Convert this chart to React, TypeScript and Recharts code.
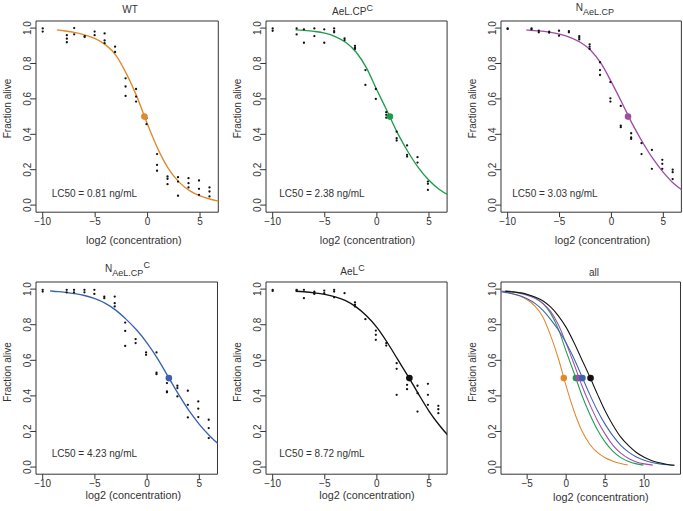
import React from "react";
import { ComposedChart, Line, Scatter, XAxis, YAxis, ReferenceArea } from "recharts";

const FONT = "'Liberation Sans', Arial, Helvetica, sans-serif";

// log2 (concentration) of each dilution step
const logConc = [-10, -7.7, -7, -6, -5.05, -4.1, -3.1, -2.1, -1.1, -0.1, 0.9, 1.9, 2.9, 3.9, 4.9, 5.9];

// replicate fractions alive at each step
const wtAlive = [
  [0.998, 0.98], [0.96, 0.94, 0.92], [1.0, 0.965], [0.955, 0.95], [0.98, 0.96], [0.97, 0.93, 0.915],
  [0.895, 0.865], [0.716, 0.67, 0.617], [0.656, 0.613, 0.585], [0.49, 0.457], [0.288, 0.227, 0.194],
  [0.162, 0.149, 0.118], [0.158, 0.133, 0.053], [0.152, 0.124, 0.1], [0.139, 0.092, 0.058], [0.1, 0.077, 0.049],
];
const aelCpCAlive = [
  [0.998, 0.985], [0.998, 0.964], [0.993, 0.917], [0.998, 0.955], [0.993, 0.917], [0.998, 0.983, 0.976],
  [0.942, 0.932], [0.9, 0.89, 0.882], [0.763, 0.679], [0.656, 0.6], [0.525, 0.51, 0.494],
  [0.415, 0.378, 0.365], [0.337, 0.284, 0.274], [0.271, 0.24], [0.133, 0.12, 0.086], [],
];
const nAelCpAlive = [
  [0.998, 0.995], [0.998, 0.993], [0.985, 0.976], [0.98, 0.974], [0.985, 0.957], [0.983, 0.976],
  [0.955, 0.946, 0.936], [0.908, 0.895, 0.882], [0.807, 0.763, 0.735], [0.695, 0.603, 0.585], [0.56, 0.449, 0.44],
  [0.406, 0.382, 0.374], [0.35, 0.288], [0.312, 0.205], [0.256, 0.233, 0.205], [0.2, 0.186, 0.147],
];
const nAelCpCAlive = [
  [0.996, 0.986], [0.996, 0.982], [0.996, 0.982], [0.996, 0.982], [0.996, 0.973], [0.958, 0.949],
  [0.958, 0.921, 0.903], [0.812, 0.765, 0.681], [0.719, 0.697], [0.644, 0.631], [0.644, 0.53, 0.522],
  [0.472, 0.425, 0.42], [0.457, 0.444, 0.397], [0.429, 0.35, 0.279], [0.369, 0.328, 0.281], [0.266, 0.219, 0.163],
];
const aelCAlive = [
  [0.996, 0.99], [0.996, 0.993], [0.996, 0.949], [0.986, 0.977, 0.973], [0.992, 0.977], [0.996, 0.986, 0.954],
  [0.977], [0.925, 0.912, 0.903], [0.831], [0.767, 0.743, 0.715], [0.697, 0.683],
  [0.584, 0.552, 0.406], [0.5, 0.462, 0.438], [0.457, 0.415, 0.312], [0.468, 0.406, 0.35], [0.344, 0.325, 0.303],
];

// fitted curves as [log2 conc, fraction alive]
const wtCurve = [
  [-8.65, 0.99], [-8, 0.985], [-7, 0.976], [-6, 0.962], [-5, 0.94], [-4, 0.905], [-3, 0.845], [-2, 0.74],
  [-1, 0.61], [0, 0.455], [1, 0.315], [2, 0.205], [3, 0.13], [4, 0.082], [5, 0.052], [6, 0.033], [7, 0.02], [7.9, 0.012],
];
const aelCpCCurve = [
  [-7.8, 0.99], [-7, 0.987], [-6, 0.981], [-5, 0.971], [-4, 0.952], [-3, 0.92], [-2, 0.865], [-1, 0.775],
  [0, 0.65], [1, 0.53], [2, 0.405], [3, 0.3], [4, 0.21], [5, 0.14], [6, 0.088], [7, 0.053], [8, 0.031], [9, 0.018], [9.9, 0.011],
];
const nAelCpCurve = [
  [-8.2, 0.99], [-8, 0.988], [-7, 0.984], [-6, 0.977], [-5, 0.966], [-4, 0.948], [-3, 0.92], [-2, 0.875],
  [-1, 0.8], [0, 0.695], [1, 0.58], [2, 0.46], [3, 0.355], [4, 0.262], [5, 0.185], [6, 0.122], [7, 0.078],
  [8, 0.048], [9, 0.029], [10, 0.018], [11.1, 0.011],
];
const nAelCpCCurve = [
  [-9.3, 0.99], [-9, 0.988], [-8, 0.983], [-7, 0.975], [-6, 0.964], [-5, 0.946], [-4, 0.92], [-3, 0.882],
  [-2, 0.83], [-1, 0.77], [0, 0.697], [1, 0.61], [2, 0.51], [3, 0.41], [4, 0.318], [5, 0.24], [6, 0.175],
  [7, 0.122], [8, 0.084], [9, 0.057], [10, 0.039], [11, 0.026], [12, 0.018], [13, 0.013], [13.8, 0.01],
];
const aelCCurve = [
  [-7.8, 0.988], [-7, 0.985], [-6, 0.979], [-5, 0.97], [-4, 0.956], [-3, 0.935], [-2, 0.9], [-1, 0.85],
  [0, 0.785], [1, 0.7], [2, 0.605], [3, 0.51], [4, 0.41], [5, 0.315], [6, 0.235], [7, 0.168], [8, 0.12],
  [9, 0.082], [10, 0.055], [11, 0.036], [12, 0.024], [13, 0.015], [13.9, 0.01],
];

const lc50 = [0.81, 2.38, 3.03, 4.23, 8.72]; // ng/mL
const colors = ["#E0892F", "#1F9B4E", "#A04CA8", "#3A62AE", "#111111"];

const yTicks = [0, 0.2, 0.4, 0.6, 0.8, 1];
const panelXTicks = [-10, -5, 0, 5];
const allXTicks = [-5, 0, 5, 10];

const toPoints = (alive: number[][]) => alive.flatMap((reps, i) => reps.map((y) => ({ x: logConc[i], y })));
const toLine = (curve: number[][]) => curve.map(([x, y]) => ({ x, y }));
const midPoint = (i: number) => ({ x: Math.log2(lc50[i]), y: 0.5 });

const INK = "#333";

const YTick = (props: any) => {
  const { x, y, payload } = props;
  return (
    <text x={x} y={y} transform={`rotate(-90 ${x} ${y})`} textAnchor="middle" fontSize={10} fill={INK} fontFamily={FONT}>
      {payload.value.toFixed(1)}
    </text>
  );
};

const SmallDot = (p: any) => <circle cx={p.cx} cy={p.cy} r={1.15} fill="#111" />;
const BigDot = (p: any) => <circle cx={p.cx} cy={p.cy} r={3.3} fill={p.fill} />;

type Box = { left: number; top: number; width: number; height: number };

function Panel(props: {
  box: Box;
  xDomain: [number, number];
  xTicks: number[];
  curves: number[][][];
  curveColors: string[];
  marks: number[];
  dots?: number[][];
  lineWidth: number;
}) {
  const { box, xDomain, xTicks, curves, curveColors, marks, dots, lineWidth } = props;
  const yw = 30;
  const xh = 22;
  return (
    <div style={{ position: "absolute", left: box.left - yw, top: box.top - 1 }}>
      <ComposedChart
        width={box.width + yw + 1}
        height={box.height + 1 + xh}
        margin={{ top: 1, right: 1, bottom: 0, left: 0 }}
      >
        <XAxis
          type="number"
          dataKey="x"
          domain={xDomain}
          allowDataOverflow
          ticks={xTicks}
          interval={0}
          height={xh}
          tickSize={5}
          tickMargin={1}
          axisLine={false}
          tickLine={{ stroke: INK }}
          tick={{ fontSize: 10, fill: INK, fontFamily: FONT }}
          tickFormatter={(v: number) => String(v).replace("-", "\u2212")}
        />
        <YAxis
          type="number"
          dataKey="y"
          domain={[-0.04, 1.04]}
          allowDataOverflow
          ticks={yTicks}
          interval={0}
          width={yw}
          tickSize={5}
          tickMargin={0}
          axisLine={false}
          tickLine={{ stroke: INK }}
          tick={(p: any) => <YTick {...p} />}
        />
        <ReferenceArea
          x1={xDomain[0]}
          x2={xDomain[1]}
          y1={-0.04}
          y2={1.04}
          fill="none"
          fillOpacity={0}
          stroke={INK}
          strokeWidth={1}
          ifOverflow="visible"
        />
        {dots && <Scatter data={toPoints(dots)} shape={SmallDot} isAnimationActive={false} />}
        {curves.map((c, i) => (
          <Line
            key={i}
            data={toLine(c)}
            dataKey="y"
            type="monotone"
            stroke={curveColors[i]}
            strokeWidth={lineWidth}
            dot={false}
            activeDot={false}
            isAnimationActive={false}
          />
        ))}
        {marks.map((m) => (
          <Scatter key={"m" + m} data={[midPoint(m)]} fill={colors[m]} shape={BigDot} isAnimationActive={false} />
        ))}
      </ComposedChart>
    </div>
  );
}

const row1: Box[] = [
  { left: 36, top: 20.9, width: 182.3, height: 191.2 },
  { left: 266, top: 20.9, width: 181.1, height: 191.2 },
  { left: 500.5, top: 20.9, width: 180.4, height: 191.2 },
];
const row2: Box[] = [
  { left: 36, top: 282.2, width: 181.5, height: 192.2 },
  { left: 266, top: 282.2, width: 181.1, height: 192.2 },
  { left: 500.5, top: 282.2, width: 179.5, height: 192.2 },
];
const boxes = [...row1, ...row2];

const panelDomain: [number, number] = [-10.64, 6.74];
const allDomain: [number, number] = [-8.35, 14.65];

const aliveSets = [wtAlive, aelCpCAlive, nAelCpAlive, nAelCpCAlive, aelCAlive];
const curveSets = [wtCurve, aelCpCCurve, nAelCpCurve, nAelCpCCurve, aelCCurve];

const lcLabelPos = [
  [51.7, 197], [279.3, 197], [512.3, 197], [51.7, 456.7], [279.3, 457],
];
const xLabelPos = [
  [133.8, 243.5], [367.5, 243.5], [602.5, 243.5], [133.3, 499], [367, 499], [600.8, 501],
];
const yLabelPos = [108.5, 108.5, 108.5, 372, 372, 372];

const textStyle = { fontFamily: FONT, fontSize: 10, fill: INK };

function Labels() {
  return (
    <svg width={683} height={511} style={{ position: "absolute", left: 0, top: 0, pointerEvents: "none" }}>
      <g {...textStyle}>
        <text x={130} y={13} textAnchor="middle">WT</text>
        <text x={352.5} y={15} textAnchor="middle">
          AeL.CP<tspan dy={-4.5} fontSize={9}>C</tspan>
        </text>
        <text x={595} y={11} textAnchor="middle">
          N<tspan dy={4} fontSize={9}>AeL.CP</tspan>
        </text>
        <text x={127.5} y={272} textAnchor="middle">
          N<tspan dy={4} fontSize={9}>AeL.CP</tspan>
          <tspan dy={-8.5} fontSize={9}>C</tspan>
        </text>
        <text x={352.5} y={275} textAnchor="middle">
          AeL<tspan dy={-4.5} fontSize={9}>C</tspan>
        </text>
        <text x={594} y={276} textAnchor="middle">all</text>

        {lcLabelPos.map(([x, y], i) => (
          <text key={"lc" + i} x={x} y={y} fontSize={10}>
            {`LC50 = ${lc50[i].toFixed(2)} ng/mL`}
          </text>
        ))}
        {xLabelPos.map(([x, y], i) => (
          <text key={"xl" + i} x={x} y={y} textAnchor="middle" fontSize={10.8}>
            log2 (concentration)
          </text>
        ))}
        {boxes.map((b, i) => (
          <text
            key={"yl" + i}
            x={b.left - 25}
            y={yLabelPos[i]}
            textAnchor="middle"
            transform={`rotate(-90 ${b.left - 25} ${yLabelPos[i]})`}
          >
            Fraction alive
          </text>
        ))}
      </g>
    </svg>
  );
}

export default function App() {
  return (
    <div style={{ position: "absolute", left: 0, top: 0, width: 683, height: 511, background: "#fff", fontFamily: FONT }}>
      {curveSets.map((c, i) => (
        <Panel
          key={i}
          box={boxes[i]}
          xDomain={panelDomain}
          xTicks={panelXTicks}
          curves={[c]}
          curveColors={[colors[i]]}
          marks={[i]}
          dots={aliveSets[i]}
          lineWidth={1.35}
        />
      ))}
      <Panel
        box={boxes[5]}
        xDomain={allDomain}
        xTicks={allXTicks}
        curves={curveSets}
        curveColors={colors}
        marks={[0, 1, 2, 3, 4]}
        lineWidth={1.05}
      />
      <Labels />
    </div>
  );
}
